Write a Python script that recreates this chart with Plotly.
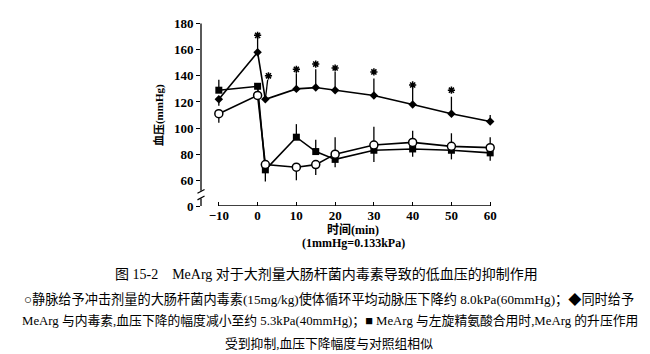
import plotly.graph_objects as go

# ---- data ----
time_min = [-10, 0, 2, 10, 15, 20, 30, 40, 50, 60]

control = [111, 125, 72, 70, 72, 80, 87, 89, 86, 85]          # open circles
control_up = [0, 0, 0, 0, 0, 13, 14, 9, 10, 8]
control_down = [7, 0, 0, 10, 8, 0, 0, 0, 0, 0]

mearg = [122, 158, 122, 130, 131, 129, 125, 118, 111, 105]      # diamonds
mearg_up = [0, 11, 0, 12, 14, 14, 13, 13, 13, 5]
mearg_down = [5, 0, 0, 0, 0, 0, 0, 0, 0, 0]

mearg_larg = [129, 132, 68, 93, 82, 76, 83, 84, 83, 81]          # squares
larg_up = [8, 0, 0, 10, 9, 0, 0, 0, 0, 0]
larg_down = [0, 0, 9, 0, 0, 6, 9, 6, 7, 6]

slant_x = [2, 2.6]
slant_y = [122, 137]

star_x = [0, 2.8, 10, 15, 20, 30, 40, 50]
star_y = [171, 140, 145, 149, 146, 143, 133, 129]

zero_pos = 40.3   # displayed position of the "0" tick below the axis break
ytick_vals = [zero_pos, 60, 80, 100, 120, 140, 160, 180]
ytick_text = ["0", "60", "80", "100", "120", "140", "160", "180"]
xtick_vals = [-10, 0, 10, 20, 30, 40, 50, 60]

SERIF = "Liberation Serif, Noto Sans CJK SC, serif"
CJK = "Liberation Serif, Noto Sans CJK SC"

fig = go.Figure()

def err(up, down):
    return dict(type="data", symmetric=False, array=up, arrayminus=down,
                width=0, thickness=1.3, color="black")

fig.add_trace(go.Scatter(x=time_min, y=mearg_larg, mode="lines+markers",
                         line=dict(color="black", width=1.6),
                         marker=dict(symbol="square", size=7, color="black"),
                         error_y=err(larg_up, larg_down), showlegend=False))
fig.add_trace(go.Scatter(x=time_min, y=mearg, mode="lines+markers",
                         line=dict(color="black", width=1.6),
                         marker=dict(symbol="diamond", size=6.5, color="black"),
                         error_y=err(mearg_up, mearg_down), showlegend=False))
fig.add_trace(go.Scatter(x=time_min, y=control, mode="lines+markers",
                         line=dict(color="black", width=1.6),
                         marker=dict(symbol="circle", size=8, color="white",
                                     line=dict(color="black", width=1.5)),
                         error_y=err(control_up, control_down), showlegend=False))
fig.add_trace(go.Scatter(x=slant_x, y=slant_y, mode="lines",
                         line=dict(color="black", width=1.3), showlegend=False))
fig.add_trace(go.Scatter(x=star_x, y=star_y, mode="markers",
                         marker=dict(symbol="asterisk-open", size=6, color="black",
                                     line=dict(color="black", width=1.5)),
                         showlegend=False))

# axis lines (with break on the y axis)
fig.add_shape(type="line", xref="x", yref="y", x0=-10, x1=60, y0=zero_pos, y1=zero_pos,
              line=dict(color="black", width=1.3))
fig.add_shape(type="line", xref="paper", yref="y", x0=0, x1=0, y0=52, y1=180,
              line=dict(color="black", width=1.3))
fig.add_shape(type="line", xref="paper", yref="y", x0=0, x1=0, y0=zero_pos, y1=46,
              line=dict(color="black", width=1.3))
fig.add_shape(type="line", xref="paper", yref="y", x0=-0.012, x1=0.012, y0=50, y1=53,
              line=dict(color="black", width=1.2))
fig.add_shape(type="line", xref="paper", yref="y", x0=-0.012, x1=0.012, y0=45, y1=48,
              line=dict(color="black", width=1.2))

fig.update_xaxes(range=[-14.6, 61.5], showgrid=False, zeroline=False, showline=False,
                 tickmode="array", tickvals=xtick_vals, ticks="inside", ticklen=4,
                 tickwidth=1.2, tickcolor="black",
                 tickfont=dict(family=SERIF, size=13, color="black", weight="bold"))
fig.update_yaxes(range=[zero_pos, 182], showgrid=False, zeroline=False, showline=False,
                 tickmode="array", tickvals=ytick_vals, ticktext=ytick_text,
                 ticks="outside", ticklen=4, tickwidth=1.2, tickcolor="black",
                 tickfont=dict(family=SERIF, size=13, color="black", weight="bold"))

def note(text, x, y, size=12, xanchor="center", angle=0):
    fig.add_annotation(text=text, xref="paper", yref="paper", x=x, y=y,
                       xanchor=xanchor, yanchor="middle", showarrow=False,
                       textangle=angle, font=dict(family=CJK, size=size, color="black"))

note("<b>血压(mmHg)</b>", -0.14, 0.49, size=11, angle=-90)
note("<b>时间(min)</b>", 0.516, -0.13, size=12)
note("<b>(1mmHg=0.133kPa)</b>", 0.516, -0.20, size=12)
note("图 15-2　MeArg 对于大剂量大肠杆菌内毒素导致的低血压的抑制作用", 0.427, -0.368, size=14)
note("○静脉给予冲击剂量的大肠杆菌内毒素(15mg/kg)使体循环平均动脉压下降约 8.0kPa(60mmHg)；◆同时给予",
     -0.607, -0.504, size=13.2, xanchor="left")
note("MeArg 与内毒素,血压下降的幅度减小至约 5.3kPa(40mmHg)；■ MeArg 与左旋精氨酸合用时,MeArg 的升压作用",
     -0.614, -0.623, size=12.8, xanchor="left")
note("受到抑制,血压下降幅度与对照组相似", 0.434, -0.742, size=12.8)

fig.update_layout(width=650, height=354, margin=dict(l=201, r=154.2, t=21.4, b=148),
                  paper_bgcolor="white", plot_bgcolor="white")

fig.write_html("out.html")
